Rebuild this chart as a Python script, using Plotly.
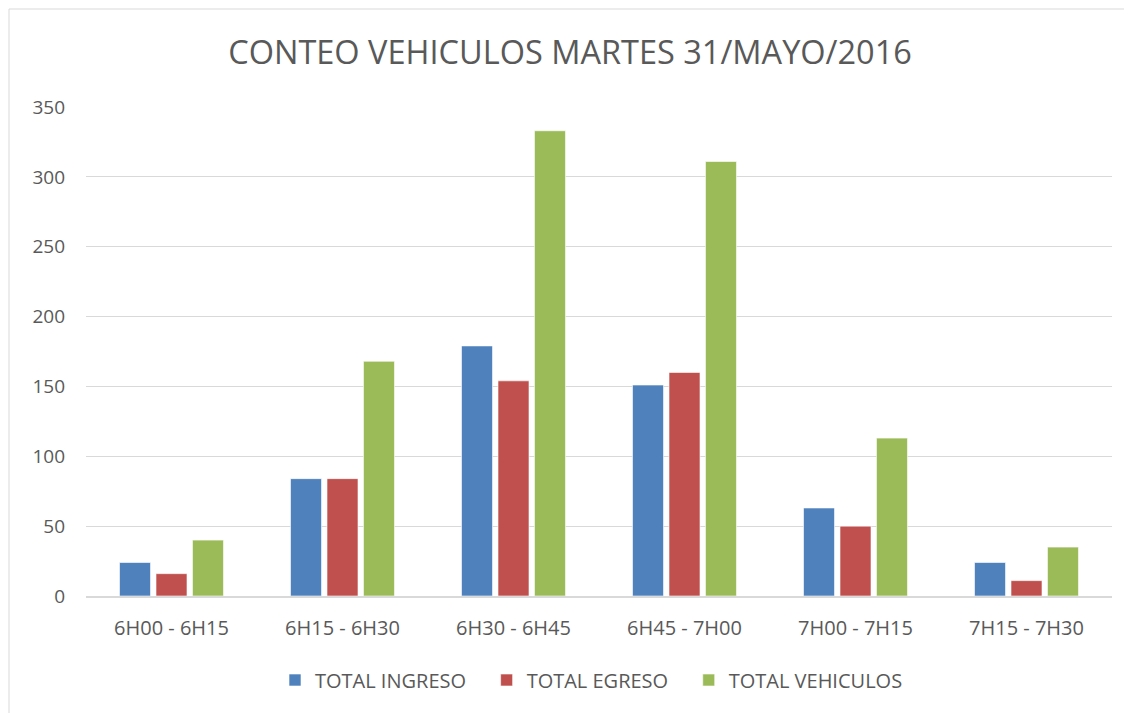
import plotly.graph_objects as go

categories = ["6H00 - 6H15", "6H15 - 6H30", "6H30 - 6H45", "6H45 - 7H00", "7H00 - 7H15", "7H15 - 7H30"]
ingreso = [24, 84, 179, 151, 63, 24]
egreso = [16, 84, 154, 160, 50, 11]
total = [40, 168, 333, 311, 113, 35]

series_names = ["TOTAL INGRESO", "TOTAL EGRESO", "TOTAL VEHICULOS"]
series_values = [ingreso, egreso, total]
colors = ["#4f81bd", "#c0504d", "#9bbb59"]

fig = go.Figure()
for name, vals, c in zip(series_names, series_values, colors):
    fig.add_trace(go.Bar(x=categories, y=vals, name=name + "\u00a0" * 3,
                         marker=dict(color=c, line=dict(color="rgba(255,255,255,0.6)", width=1))))

# page has an 8px body margin; figure coords = page coords - 8
W, H = 1124, 705
l, r, t, b = 78, 20, 99, 117
pw, ph = W - l - r, H - t - b

def px(xpix):
    return (xpix - l) / pw

def py(ypix):
    return (H - b - ypix) / ph

fig.update_layout(
    width=W, height=H,
    margin=dict(l=l, r=r, t=t, b=b),
    paper_bgcolor="white", plot_bgcolor="white",
    font=dict(family="Open Sans, Liberation Sans, sans-serif", color="#595959", size=20),
    title=dict(text="CONTEO VEHICULOS MARTES 31/MAYO/2016", x=0.5, xanchor="center",
               y=1 - 45 / H, yanchor="middle",
               font=dict(size=32.5, color="#595959")),
    barmode="group", bargap=0.36, bargroupgap=0.15,
    xaxis=dict(showgrid=False, showline=True, linecolor="#d9d9d9", linewidth=2,
               ticks="", ticklabelstandoff=13, tickfont=dict(size=20, color="#595959")),
    yaxis=dict(range=[0, 350], dtick=50, showgrid=True, gridcolor="#d9d9d9", gridwidth=1,
               zeroline=False, showline=False, ticks="", ticklabelstandoff=20,
               tickfont=dict(size=19, color="#595959")),
    legend=dict(orientation="h", x=0.5, xanchor="center", y=py(672), yanchor="middle",
                font=dict(size=20, color="#595959"), traceorder="normal",
                itemwidth=30),
    showlegend=True,
)

fig.add_shape(type="line", xref="paper", yref="paper", x0=px(1), x1=px(1300), y0=py(1), y1=py(1),
              line=dict(color="#d9d9d9", width=1))
fig.add_shape(type="line", xref="paper", yref="paper", x0=px(1), x1=px(1), y0=py(1), y1=py(900),
              line=dict(color="#d9d9d9", width=1))

fig.write_html("out.html")
